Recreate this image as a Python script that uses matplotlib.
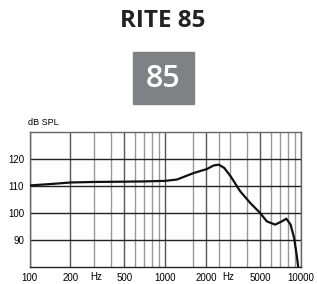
import matplotlib
matplotlib.use("Agg")
import matplotlib.pyplot as plt

# frequency response
freq = [100, 150, 200, 300, 500, 700, 1000, 1220, 1620, 2030, 2270, 2480,
        2720, 3030, 3570, 4230, 5000, 5600, 6450, 7230, 7800, 8380, 8900,
        9290, 9560]
spl = [110.2, 110.8, 111.3, 111.5, 111.6, 111.7, 111.9, 112.4, 114.8, 116.3,
       117.6, 117.9, 116.7, 113.6, 108.0, 103.7, 100.0, 96.9, 95.7, 96.9,
       97.9, 95.7, 90.7, 84.5, 79.7]

x_ticks = [100, 200, 500, 1000, 2000, 5000, 10000]
minor_grid = [300, 400, 600, 700, 800, 900, 1600, 2500, 3000, 4000, 6000,
              7000, 8000, 9000]
y_ticks = [90, 100, 110, 120]

font = ['Liberation Sans Narrow', 'Liberation Sans', 'DejaVu Sans']

fig = plt.figure(figsize=(3.17, 2.84), dpi=100)

fig.text(163 / 317, 1 - 21 / 284, 'RITE 85', ha='center', va='center',
         fontsize=17.5, fontweight='bold', color='#222222', family='Open Sans')
fig.patches.append(plt.Rectangle((133 / 317, 1 - 104 / 284), 61 / 317, 52 / 284,
                                 transform=fig.transFigure, color='#808184'))
fig.text(163 / 317, 1 - 79 / 284, '85', ha='center', va='center',
         fontsize=22, fontweight='semibold', color='white', family='Open Sans')

ax = fig.add_axes([29.5 / 317, 17 / 284, 271.5 / 317, 135 / 284])
ax.set_xscale('log')
ax.set_xlim(100, 10000)
ax.set_ylim(80, 130)

for f in minor_grid:
    ax.axvline(f, color='#999999', lw=1.0, zorder=1)
for f in x_ticks:
    ax.axvline(f, color='#555555', lw=1.0, zorder=1)
for v in y_ticks:
    ax.axhline(v, color='#222222', lw=1.0, zorder=1)

ax.plot(freq, spl, color='#111111', lw=1.6, zorder=3)

for s in ax.spines.values():
    s.set_color('#666666')
    s.set_linewidth(1.0)
ax.spines['bottom'].set_color('#222222')

ax.set_xticks(x_ticks)
ax.set_xticklabels([str(t) for t in x_ticks], family=font, fontsize=7)
ax.xaxis.set_minor_locator(matplotlib.ticker.NullLocator())
ax.set_yticks(y_ticks)
ax.set_yticklabels([str(t) for t in y_ticks], family=font, fontsize=7)
ax.tick_params(length=0, pad=4)

for f in [310, 2920]:
    ax.text(f, -0.04, 'Hz', transform=ax.get_xaxis_transform(), ha='center',
            va='top', fontsize=7, family=font)
ax.text(-0.005, 1.04, 'dB SPL', transform=ax.transAxes, ha='left',
        va='bottom', fontsize=6.5, family=font)

fig.savefig('out.png', dpi=100)
